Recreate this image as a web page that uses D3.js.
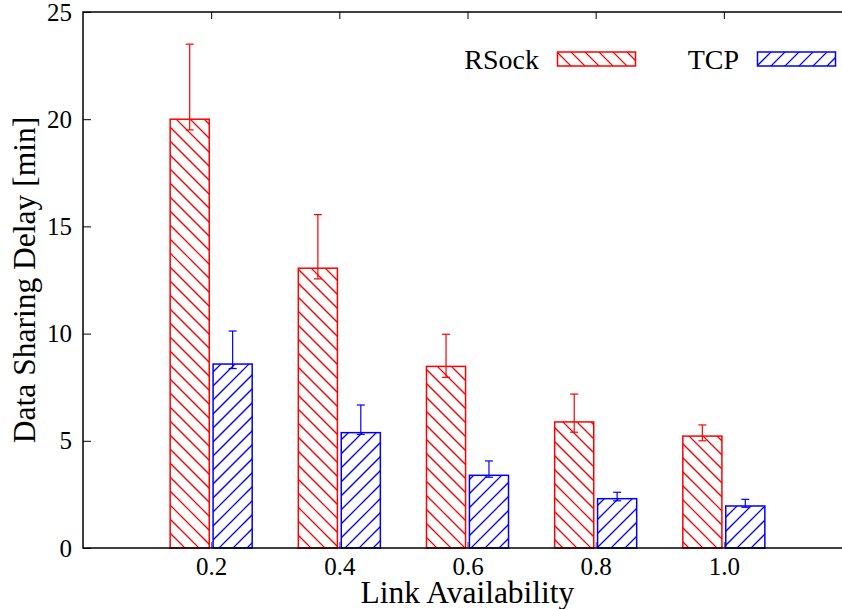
<!DOCTYPE html>
<html>
<head>
<meta charset="utf-8">
<script src="https://cdn.jsdelivr.net/npm/d3@7"></script>
<style>
  body { margin: 0; background: #fff; }
  svg { display: block; font-family: "Liberation Serif", "DejaVu Serif", serif; }
</style>
</head>
<body>
<div class="box"></div>
<script>
// chart values
const availability = [0.2, 0.4, 0.6, 0.8, 1.0];
const tickLabels = ["0.2", "0.4", "0.6", "0.8", "1.0"];
const yTicks = [0, 5, 10, 15, 20, 25];

const rsockMean = [20.0, 13.05, 8.47, 5.88, 5.22];
const rsockLow  = [19.5, 12.55, 7.96, 5.40, 5.00];
const rsockHigh = [23.5, 15.55, 9.97, 7.18, 5.74];

const tcpMean = [8.58, 5.38, 3.39, 2.30, 1.96];
const tcpLow  = [8.37, 5.30, 3.30, 2.20, 1.90];
const tcpHigh = [10.12, 6.67, 4.06, 2.60, 2.27];

const series = [
  { name: "RSock", color: "rgb(255,0,0)", dir: -1, offset: -0.0335, mean: rsockMean, low: rsockLow, high: rsockHigh },
  { name: "TCP",   color: "rgb(0,0,255)", dir: 1,  offset:  0.0335, mean: tcpMean,   low: tcpLow,   high: tcpHigh }
];

let margin = { top: 12, left: 83 };
let width = 769, height = 536;
let barWidth = 0.061; // in x units
let hatchStep = 14;
let clipId = 0;

let svg = d3.select(".box").append("svg")
  .attr("width", 842)
  .attr("height", 609);
let defs = svg.append("defs");

// hatched box: outline plus clipped diagonal lines on a fixed pixel grid
function hatchBox (parent, bx, by, bw, bh, color, dir) {
  let id = "clip" + (clipId++);
  defs.append("clipPath").attr("id", id)
    .append("rect").attr("x", bx).attr("y", by).attr("width", bw).attr("height", bh);
  let hg = parent.append("g").attr("clip-path", "url(#" + id + ")");
  let xa = bx - 2, xb = bx + bw + 2;
  let kMin, kMax;
  if (dir < 0) { kMin = by - xb; kMax = by + bh - xa; }   // y = x + k
  else { kMin = by + xa; kMax = by + bh + xb; }           // y = -x + k
  for (let k = Math.floor(kMin / hatchStep) * hatchStep; k <= kMax; k += hatchStep) {
    let y1 = dir < 0 ? xa + k : k - xa;
    let y2 = dir < 0 ? xb + k : k - xb;
    hg.append("line")
      .attr("x1", xa).attr("y1", y1).attr("x2", xb).attr("y2", y2)
      .attr("stroke", color).attr("stroke-width", 1.25);
  }
  parent.append("rect")
    .attr("x", bx).attr("y", by).attr("width", bw).attr("height", bh)
    .attr("fill", "none").attr("stroke", color).attr("stroke-width", 1.5);
}

let g = svg.append("g")
  .attr("transform", "translate(" + margin.left + "," + margin.top + ")");

let x = d3.scaleLinear().domain([0, 1.2]).range([0, width]);
let y = d3.scaleLinear().domain([0, 25]).range([height, 0]);

// y axis ticks (inside)
g.append("g")
  .call(d3.axisLeft(y).tickValues(yTicks).tickSizeInner(-8).tickSizeOuter(0).tickPadding(11))
  .call(function (a) {
    a.select(".domain").remove();
    a.selectAll("line").attr("stroke", "#000").attr("stroke-width", 1);
    a.selectAll("text").attr("font-size", 25).attr("font-family", "Liberation Serif").attr("fill", "#000");
  });

// x axis ticks (inside, bottom and mirrored top)
g.append("g")
  .attr("transform", "translate(0," + height + ")")
  .call(d3.axisBottom(x).tickValues(availability).tickFormat(function (d, i) { return tickLabels[i]; })
    .tickSizeInner(-6).tickSizeOuter(0).tickPadding(9))
  .call(function (a) {
    a.select(".domain").remove();
    a.selectAll("line").attr("stroke", "#555").attr("stroke-width", 1);
    a.selectAll("text").attr("font-size", 25).attr("font-family", "Liberation Serif").attr("fill", "#000");
  });
g.append("g")
  .call(d3.axisTop(x).tickValues(availability).tickFormat("").tickSizeInner(-7).tickSizeOuter(0))
  .call(function (a) {
    a.select(".domain").remove();
    a.selectAll("line").attr("stroke", "#000").attr("stroke-width", 1);
  });

// bars
series.forEach(function (s) {
  let grp = g.append("g");
  availability.forEach(function (a, i) {
    let bx = x(a + s.offset - barWidth / 2);
    let bw = x(barWidth) - x(0);
    let by = y(s.mean[i]);
    hatchBox(grp, bx, by, bw, height - by, s.color, s.dir);
  });

  // error bars
  let data = availability.map(function (a, i) {
    return { a: a, low: s.low[i], high: s.high[i] };
  });
  let eb = grp.selectAll(".err").data(data).enter().append("g");
  eb.append("line")
    .attr("x1", function (d) { return x(d.a + s.offset); })
    .attr("x2", function (d) { return x(d.a + s.offset); })
    .attr("y1", function (d) { return y(d.low); })
    .attr("y2", function (d) { return y(d.high); })
    .attr("stroke", s.color).attr("stroke-width", 1.2);
  ["low", "high"].forEach(function (k) {
    eb.append("line")
      .attr("x1", function (d) { return x(d.a + s.offset) - 4; })
      .attr("x2", function (d) { return x(d.a + s.offset) + 4; })
      .attr("y1", function (d) { return y(d[k]); })
      .attr("y2", function (d) { return y(d[k]); })
      .attr("stroke", s.color).attr("stroke-width", 1.2);
  });
});

// frame: left, bottom, top
g.append("path")
  .attr("d", "M" + width + ",0 H0 V" + height + " H" + width)
  .attr("fill", "none").attr("stroke", "#000").attr("stroke-width", 1.5);

// legend
let legend = g.append("g");
let legendX = [456, 656];
series.forEach(function (s, i) {
  legend.append("text")
    .attr("x", legendX[i])
    .attr("y", 57)
    .attr("text-anchor", "end")
    .attr("font-size", 28)
    .attr("fill", "#000")
    .text(s.name);
  hatchBox(legend, legendX[i] + 18.5, 40, 78, 14, s.color, s.dir);
});

// axis titles
g.append("text")
  .attr("x", width / 2)
  .attr("y", height + 55)
  .attr("text-anchor", "middle")
  .attr("font-size", 31.5)
  .attr("fill", "#000")
  .text("Link Availability");

g.append("text")
  .attr("transform", "translate(" + (-48) + "," + (height / 2) + ") rotate(-90)")
  .attr("text-anchor", "middle")
  .attr("font-size", 31.5)
  .attr("fill", "#000")
  .text("Data Sharing Delay [min]");
</script>
</body>
</html>
